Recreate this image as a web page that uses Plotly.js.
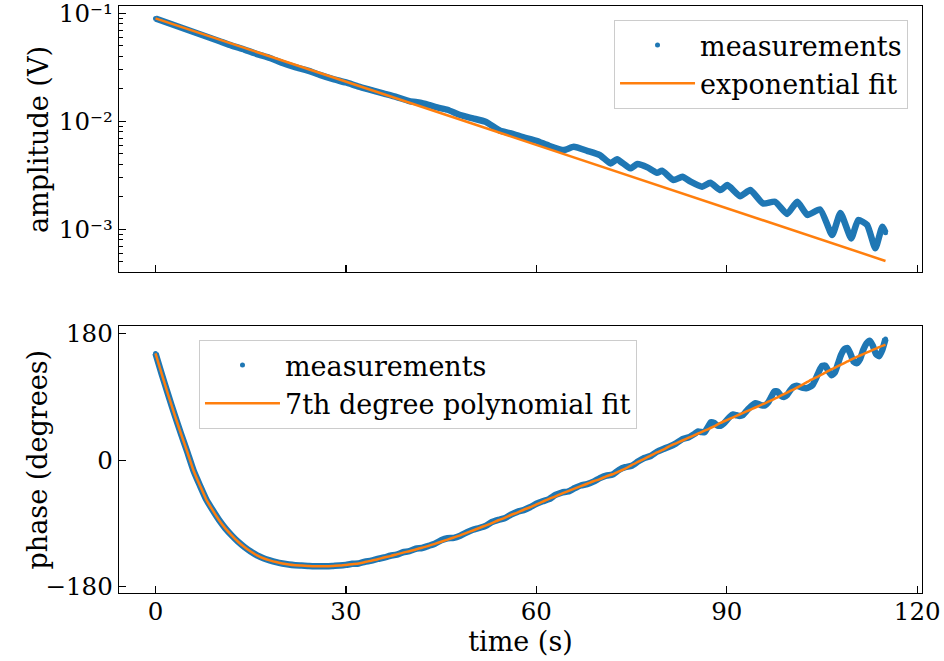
<!DOCTYPE html>
<html>
<head>
<meta charset="utf-8">
<script src="https://cdn.plot.ly/plotly-3.0.1.min.js"></script>
<style>html,body{margin:0;padding:0;background:#fff;}#chart{width:944px;height:661px;}</style>
</head>
<body>
<div id="chart"></div>
<script>
// ---- amplitude panel ----
const t_amp = [0,2,4,6,8,10,12,14,16,18,20,22,24,26,28,30,32,34,36,38,40,41.7,43,44.5,46,48,50,52,54.3,56,58,60,62,64.3,65.9,68,70,71.7,72.7,74.8,75.9,77.5,79,79.8,81.6,83,84.3,86.1,87.4,89,90.1,92.1,93.7,95.7,97.6,99.5,101.1,102.7,104.7,106.6,107.9,109.6,110.7,112.1,113.4,114.5,115];
const amp = [0.0895,0.0813,0.0739,0.0671,0.0610,0.0554,0.0503,0.0462,0.0420,0.0386,0.0347,0.0318,0.0295,0.0268,0.0246,0.0229,0.0210,0.0195,0.0181,0.0168,0.0154,0.01487,0.0142,0.0134,0.0128,0.01144,0.01066,0.00991,0.00818,0.00774,0.00711,0.00661,0.00594,0.00542,0.00582,0.00534,0.00488,0.00408,0.00445,0.00367,0.00402,0.00375,0.00334,0.00349,0.00286,0.00307,0.00276,0.00248,0.00270,0.00231,0.00257,0.00203,0.00231,0.00174,0.00180,0.00139,0.00180,0.00136,0.00153,0.000886,0.00142,0.000825,0.00122,0.00110,0.000667,0.00106,0.000930];
const t_amp_fit = [0, 57.5, 115];
const amp_fit = [0.0899, 0.00677, 0.000510];

// ---- phase panel ----
const t_phase = [0,1,2,3,4,5,6,7,8,9,10,11,12,13,14,15,16,17,18,19,20,21,22,23,24,25,26,27,28,29,30,31,32,33,34,35,36,37,38,39,40,41,42,43,44,45,46,47,48,49,50,51,52,53,54,55,56,57,58,59,60,61,62,63,64,65,66,67,68,69,70,71,72,73,74,75,76,77,78,79,80,81,82,83,84,
85,85.5,86,86.5,87,87.5,88,88.5,89,89.5,90,90.5,91,91.5,92,92.5,93,93.5,94,94.5,95,95.5,96,96.5,97,97.5,98,98.5,99,99.5,100,100.5,101,101.5,102,102.5,103,103.5,104,104.5,105,105.5,106,106.5,107,107.5,108,108.5,109,109.5,110,110.5,111,111.5,112,112.5,113,113.5,114,114.5,115];
const phase = [152,122,93,65,38,12,-15,-36,-56,-71,-85,-97,-107,-116,-123.5,-130,-135.5,-139.5,-142.5,-145,-147,-148.5,-149.5,-150,-150.5,-151,-151,-151,-150.5,-150,-149,-147.5,-147,-144.5,-143,-140.5,-138.5,-136,-134.5,-131,-129.5,-126,-125,-122,-119,-114,-111,-110.5,-107.5,-103,-99,-96.5,-93.5,-88,-85,-82.5,-77.5,-73.5,-71,-67,-62,-58.5,-55.5,-49.5,-46,-44.5,-40,-36,-34,-30.5,-25.5,-22,-20.5,-14,-10,-8,-2,3,6,12,16,19.5,24,30,32.5,
38,41,40,40,47,54,53,49.5,49,52,57,62,65,64,63,64,69,74,78,81,80,78,78,82,90,98,97.5,92,90,93,99.5,104.5,106,104.5,103,102.5,104,107,115.5,126,134,134.5,127,121,124.5,137,150,158,159.5,151,140,138,144,157,166,170,163,151,148,157,172.5];
const t_phase_fit = [0,1,2,3,4,5,6,7,8,9,10,11,12,13,14,15,16,17,18,19,20,21,22,23,24,25,26,27,28,29,30,31,32,33,34,35,36,37,38,39,40,41,42,43,44,45,46,47,48,49,50,51,52,53,54,55,56,57,58,59,60,61,62,63,64,65,66,67,68,69,70,71,72,73,74,75,76,77,78,79,80,81,82,83,84,85,86,87,88,89,90,91,92,93,94,95,96,97,98,99,100,101,102,103,104,105,106,107,108,109,110,111,112,113,114,115];
const phase_fit = [152,122,93,65,38,12,-15,-36,-56,-71,-85,-97,-107,-116,-123.5,-130,-135.5,-139.5,-142.5,-145,-147,-148.5,-149.5,-150,-150.5,-151,-151,-151,-150.5,-150,-149,-148,-147,-145,-143,-141,-138.5,-136.5,-134,-131.5,-129.5,-127,-124.5,-122,-119,-116,-113,-110,-107,-103.5,-100,-96.5,-93,-89.5,-85.5,-82,-78,-74.5,-70.5,-67,-63,-59,-55,-51.5,-47.5,-44,-40.5,-37,-33.5,-30,-27,-23,-20,-16,-12,-7,-2.5,2,6.5,11,15,20,24,28,32,36,40,44,48,53,57,61,65,69,73,77,81,85,89.5,94,98.5,103,108,113,117.5,122,127,131.5,136,140.5,145,149,153,157,161,164.5];

// ---- ticks / labels ----
const x_ticks = [0,30,60,90,120];
const amp_ticks = [0.001,0.01,0.1];
const amp_ticktext = ['10⁻³','10⁻²','10⁻¹'];
const amp_minor = [0.0004,0.0005,0.0006,0.0007,0.0008,0.0009,0.002,0.003,0.004,0.005,0.006,0.007,0.008,0.009,0.02,0.03,0.04,0.05,0.06,0.07,0.08,0.09];
const phase_ticks = [-180,0,180];
const phase_ticktext = ['−180','0','180'];
const amp_title = 'amplitude (V)';
const phase_title = 'phase (degrees)';
const time_title = 'time (s)';

const BLUE = '#1f77b4', ORANGE = '#ff7f0e';
const FAMILY = "'DejaVu Serif', 'Liberation Serif', serif";
function F(sz) { return {family: FAMILY, size: sz || 27, color: '#000'}; }
const TICK = 24.5;

const traces = [
  {x: t_amp, y: amp, xaxis: 'x', yaxis: 'y', mode: 'lines', line: {color: BLUE, width: 6.5, shape: 'spline', smoothing: 0.5}, showlegend: false, hoverinfo: 'skip'},
  {x: t_amp, y: amp, xaxis: 'x', yaxis: 'y', mode: 'markers', marker: {color: BLUE, size: 5}, name: 'measurements', legend: 'legend'},
  {x: t_amp_fit, y: amp_fit, xaxis: 'x', yaxis: 'y', mode: 'lines', line: {color: ORANGE, width: 2.5}, name: 'exponential fit', legend: 'legend'},
  {x: t_phase, y: phase, xaxis: 'x2', yaxis: 'y2', mode: 'lines', line: {color: BLUE, width: 6.5, shape: 'spline', smoothing: 0.5}, showlegend: false, hoverinfo: 'skip'},
  {x: t_phase, y: phase, xaxis: 'x2', yaxis: 'y2', mode: 'markers', marker: {color: BLUE, size: 5}, name: 'measurements', legend: 'legend2'},
  {x: t_phase_fit, y: phase_fit, xaxis: 'x2', yaxis: 'y2', mode: 'lines', line: {color: ORANGE, width: 2.5, shape: 'spline', smoothing: 0.5}, name: '7th degree polynomial fit', legend: 'legend2'}
];

function axis(extra) {
  return Object.assign({
    showline: true, mirror: true, linecolor: '#000', linewidth: 1.3,
    ticks: 'inside', ticklen: 7, tickwidth: 1.2, tickcolor: '#000',
    showgrid: false, zeroline: false, tickfont: F(TICK), ticklabeloverflow: 'allow'
  }, extra);
}
function legend(extra) {
  return Object.assign({
    bgcolor: 'rgba(255,255,255,0.8)', bordercolor: '#cccccc', borderwidth: 1,
    font: F(), tracegroupgap: 0, itemwidth: 75
  }, extra);
}

const layout = {
  width: 944, height: 661,
  margin: {l: 119, r: 22, t: 6, b: 68},
  paper_bgcolor: '#fff', plot_bgcolor: '#fff',
  font: F(),
  xaxis: axis({domain: [0, 1], anchor: 'y', matches: 'x2', range: [-5.75, 120.75], tickmode: 'array', tickvals: x_ticks, showticklabels: false}),
  yaxis: axis({domain: [0.5468, 1], anchor: 'x', type: 'log', range: [-3.395, -0.932],
    tickmode: 'array', tickvals: amp_ticks, ticktext: amp_ticktext,
    minor: {ticks: 'inside', ticklen: 4, tickwidth: 1, tickcolor: '#000', tickmode: 'array', tickvals: amp_minor, showgrid: false}}),
  xaxis2: axis({domain: [0, 1], anchor: 'y2', range: [-5.75, 120.75], tickmode: 'array', tickvals: x_ticks, ticklabelstandoff: -4,
    title: {text: time_title, font: F(), standoff: 0}}),
  yaxis2: axis({domain: [0, 0.4549], anchor: 'x2', range: [-189, 191], tickmode: 'array', tickvals: phase_ticks, ticktext: phase_ticktext}),
  legend: legend({x: 0.9826, xanchor: 'right', y: 0.9761, yanchor: 'top'}),
  legend2: legend({x: 0.0996, xanchor: 'left', y: 0.431, yanchor: 'top'}),
  annotations: [
    {text: amp_title, textangle: -90, xref: 'paper', yref: 'paper', x: -0.1009, y: 0.7734, xanchor: 'center', yanchor: 'middle', showarrow: false, font: F()},
    {text: phase_title, textangle: -90, xref: 'paper', yref: 'paper', x: -0.1009, y: 0.2274, xanchor: 'center', yanchor: 'middle', showarrow: false, font: F()}
  ]
};

Plotly.newPlot('chart', traces, layout, {staticPlot: true, displayModeBar: false});
</script>
</body>
</html>
